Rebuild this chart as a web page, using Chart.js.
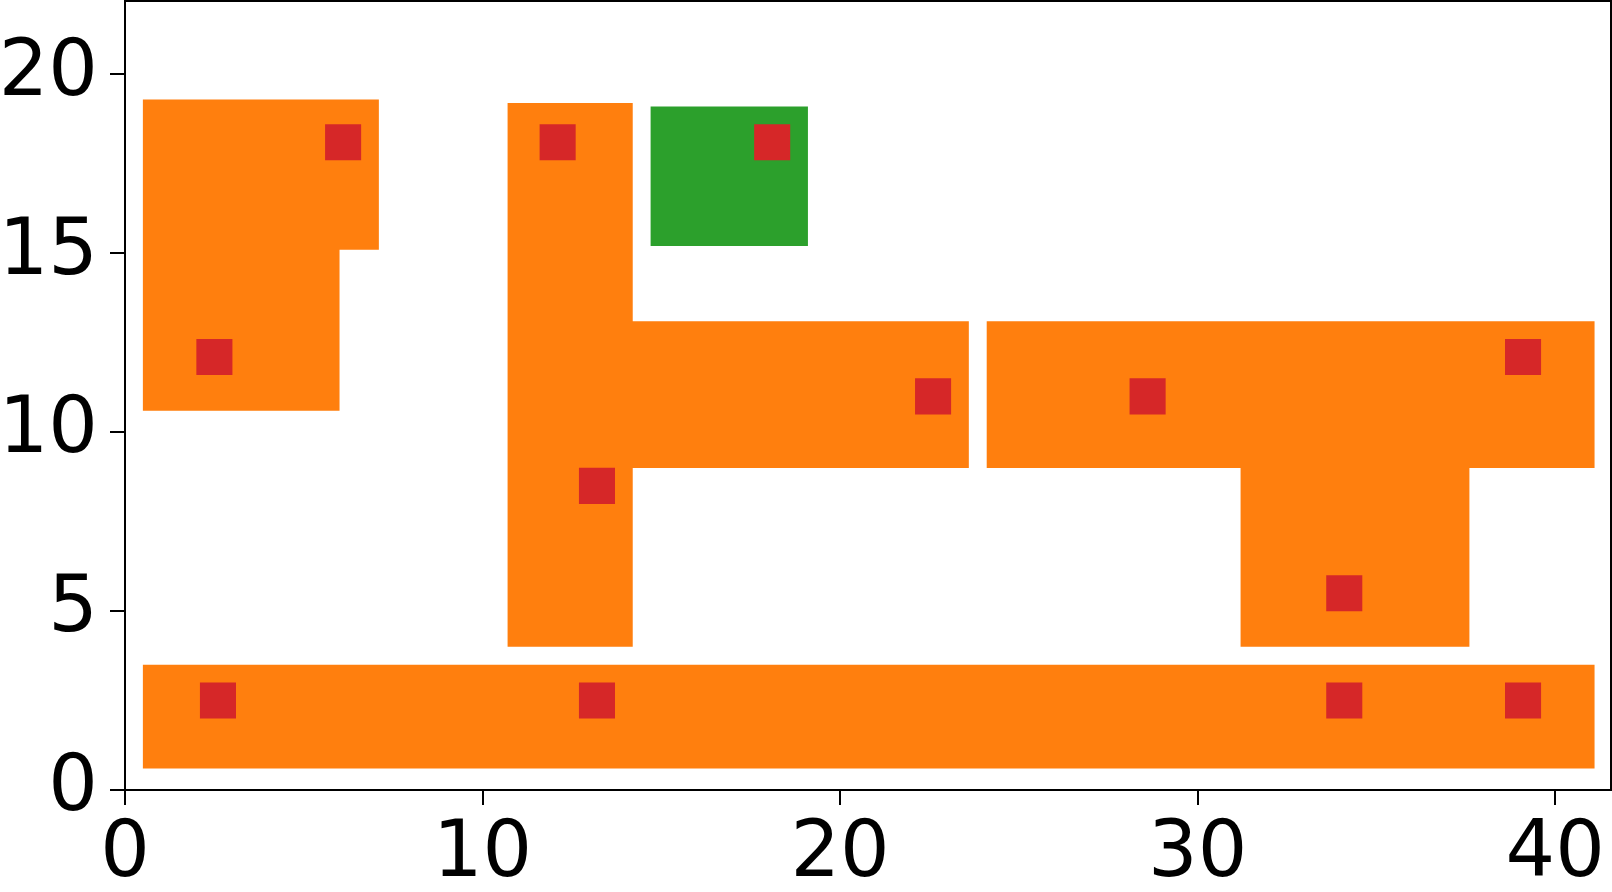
<!DOCTYPE html>
<html>
<head>
<meta charset="utf-8">
<script src="https://cdn.jsdelivr.net/npm/chart.js@4.4.1/dist/chart.umd.min.js"></script>
<style>
  html, body { margin: 0; padding: 0; background: #ffffff; }
  #wrap { width: 1612px; height: 892px; }
</style>
</head>
<body>
<div id="wrap"><canvas id="c" width="1612" height="892"></canvas></div>
<script>
// ---- data ----
const xTicks = [0, 10, 20, 30, 40];
const yTicks = [0, 5, 10, 15, 20];

// orange region outlines (x, y pairs in data units, closed)
const regionAx = [0.5, 6.0, 6.0, 7.1, 7.1, 0.5, 0.5];
const regionAy = [10.6, 10.6, 15.1, 15.1, 19.3, 19.3, 10.6];

const regionBx = [10.7, 14.2, 14.2, 23.6, 23.6, 14.2, 14.2, 10.7, 10.7];
const regionBy = [4.0, 4.0, 9.0, 9.0, 13.1, 13.1, 19.2, 19.2, 4.0];

const regionCx = [24.1, 31.2, 31.2, 37.6, 37.6, 41.1, 41.1, 24.1, 24.1];
const regionCy = [9.0, 9.0, 4.0, 4.0, 9.0, 9.0, 13.1, 13.1, 9.0];

const regionDx = [0.5, 41.1, 41.1, 0.5, 0.5];
const regionDy = [0.6, 0.6, 3.5, 3.5, 0.6];

// green region
const regionGx = [14.7, 19.1, 19.1, 14.7, 14.7];
const regionGy = [15.2, 15.2, 19.1, 19.1, 15.2];

// red square markers
const markX = [6.1, 2.5, 2.6, 12.1, 18.1, 13.2, 13.2, 22.6, 28.6, 39.1, 34.1, 34.1, 39.1];
const markY = [18.1, 12.1, 2.5, 18.1, 18.1, 8.5, 2.5, 11.0, 11.0, 12.1, 5.5, 2.5, 2.5];

const xMax = 41.56;
const yMax = 22.05;

const ORANGE = '#ff7f0e';
const GREEN = '#2ca02c';
const RED = '#d62728';

function pts(xs, ys) { return xs.map((x, i) => ({ x: x, y: ys[i] })); }

function region(xs, ys, color) {
  return {
    data: pts(xs, ys),
    showLine: true,
    fill: 'shape',
    backgroundColor: color,
    borderColor: color,
    borderWidth: 0,
    pointRadius: 0,
    pointHoverRadius: 0,
    tension: 0
  };
}

function noPad(axis) {
  axis.paddingTop = 0; axis.paddingBottom = 0;
  axis.paddingLeft = 0; axis.paddingRight = 0;
}

const frame = {
  id: 'frame',
  afterDraw(chart) {
    const a = chart.chartArea, ctx = chart.ctx;
    ctx.save();
    ctx.strokeStyle = '#000';
    ctx.lineWidth = 2;
    ctx.beginPath();
    ctx.moveTo(a.left, a.top);
    ctx.lineTo(a.right, a.top);
    ctx.lineTo(a.right, a.bottom);
    ctx.stroke();
    ctx.restore();
  }
};

new Chart(document.getElementById('c'), {
  type: 'scatter',
  data: {
    datasets: [
      {
        data: pts(markX, markY),
        pointStyle: 'rect',
        pointRadius: 25.5,
        pointHoverRadius: 25.5,
        backgroundColor: RED,
        borderWidth: 0,
        showLine: false
      },
      region(regionGx, regionGy, GREEN),
      region(regionAx, regionAy, ORANGE),
      region(regionBx, regionBy, ORANGE),
      region(regionCx, regionCy, ORANGE),
      region(regionDx, regionDy, ORANGE)
    ]
  },
  options: {
    responsive: false,
    animation: false,
    events: [],
    layout: { autoPadding: false, padding: { top: 1, right: 1, left: 0, bottom: 0 } },
    plugins: { legend: { display: false }, tooltip: { enabled: false } },
    scales: {
      x: {
        type: 'linear',
        min: 0, max: xMax,
        afterBuildTicks(axis) { axis.ticks = xTicks.map(v => ({ value: v })); },
        afterFit(axis) { axis.height = 102; noPad(axis); },
        grid: { drawOnChartArea: false, drawTicks: true, tickLength: 15, tickWidth: 2, lineWidth: 2, tickColor: '#000', color: '#000' },
        border: { display: true, color: '#000', width: 2 },
        ticks: { color: '#000', padding: 4, maxRotation: 0, autoSkip: false,
                 font: { family: 'DejaVu Sans', size: 78 } }
      },
      y: {
        type: 'linear',
        min: 0, max: yMax,
        afterBuildTicks(axis) { axis.ticks = yTicks.map(v => ({ value: v })); },
        afterFit(axis) { axis.width = 125; noPad(axis); },
        grid: { drawOnChartArea: false, drawTicks: true, tickLength: 15, tickWidth: 2, lineWidth: 2, tickColor: '#000', color: '#000' },
        border: { display: true, color: '#000', width: 2 },
        ticks: { color: '#000', padding: 12, autoSkip: false,
                 font: { family: 'DejaVu Sans', size: 78 } }
      }
    }
  },
  plugins: [frame]
});
</script>
</body>
</html>
